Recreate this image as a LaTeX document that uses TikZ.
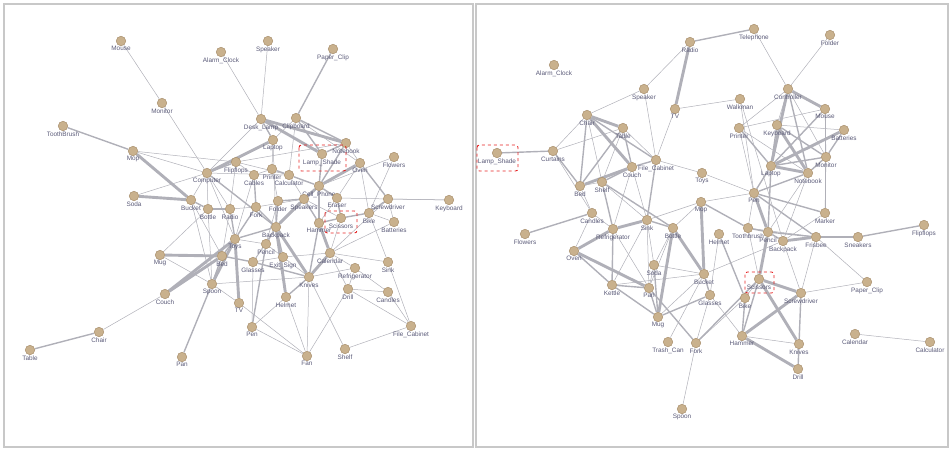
\documentclass[tikz,border=0pt]{standalone}
\usepackage{fontspec}
\setmainfont{Liberation Sans}
\usetikzlibrary{backgrounds}
\definecolor{edgec}{HTML}{B0B0B8}
\definecolor{nodef}{HTML}{C9B18D}
\definecolor{noded}{HTML}{A88F6C}
\definecolor{lblc}{HTML}{5A5A78}
\definecolor{framec}{HTML}{C8C8C8}
\definecolor{redbox}{HTML}{E52222}
\newcommand{\V}[4]{\node[vtx,label={[lbl]below:{#4}}] (#1) at (#2,#3) {};}
\begin{document}
\begin{tikzpicture}[x=1pt,y=-1pt,
 vtx/.style={circle,fill=nodef,draw=noded,line width=0.5pt,minimum size=9.5pt,inner sep=0pt,label distance=0.5pt},
 lbl/.style={font=\fontsize{6.4}{7}\selectfont,text=lblc,inner sep=0.3pt},
 et/.style={draw=edgec,line width=0.5pt},
 em/.style={draw=edgec,line width=1.4pt},
 eT/.style={draw=edgec,line width=2.9pt},
 frm/.style={draw=framec,line width=1.5pt},
 hl/.style={draw=redbox,dashed,line width=0.9pt,rounded corners=2.5pt}]
\useasboundingbox (0,0) rectangle (952,450);
% ---------- left panel nodes
\V{LMouse}{121}{41}{Mouse}
\V{LAlarm}{221}{52}{Alarm\_Clock}
\V{LSpeaker}{268}{41}{Speaker}
\V{LPaperClip}{333}{49}{Paper\_Clip}
\V{LMonitor}{162}{103}{Monitor}
\V{LToothBrush}{63}{126}{ToothBrush}
\V{LMop}{133}{151}{Mop}
\V{LDeskLamp}{261}{119}{Desk\_Lamp}
\V{LClipboard}{296}{118}{Clipboard}
\V{LLaptop}{273}{140}{Laptop}
\V{LNotebook}{346}{143}{Notebook}
\V{LLampShade}{322}{154}{Lamp\_Shade}
\V{LFlowers}{394}{157}{Flowers}
\V{LComputer}{207}{173}{Computer}
\V{LFlipflops}{236}{162}{Flipflops}
\V{LCables}{254}{175}{Cables}
\V{LPrinter}{272}{169}{Printer}
\V{LCalculator}{289}{175}{Calculator}
\V{LCellPhone}{319}{186}{Cell\_Phone}
\V{LOven}{360}{163}{Oven}
\V{LSoda}{134}{196}{Soda}
\V{LBucket}{191}{200}{Bucket}
\V{LBottle}{208}{209}{Bottle}
\V{LRadio}{230}{209}{Radio}
\V{LFork}{256}{207}{Fork}
\V{LFolder}{278}{201}{Folder}
\V{LSpeakers}{304}{199}{Speakers}
\V{LEraser}{337}{198}{Eraser}
\V{LScrewdriver}{388}{199}{Screwdriver}
\V{LKeyboard}{449}{200}{Keyboard}
\V{LHammer}{319}{223}{Hammer}
\V{LScissors}{341}{218}{Scissors}
\V{LBike}{369}{213}{Bike}
\V{LBatteries}{394}{222}{Batteries}
\V{LBackpack}{276}{227}{Backpack}
\V{LToys}{235}{239}{Toys}
\V{LPencil}{266}{244}{Pencil}
\V{LMug}{160}{255}{Mug}
\V{LBed}{222}{256}{Bed}
\V{LGlasses}{253}{262}{Glasses}
\V{LExitSign}{283}{257}{Exit\_Sign}
\V{LCalendar}{330}{253}{Calendar}
\V{LSink}{388}{262}{Sink}
\V{LRefrigerator}{355}{268}{Refrigerator}
\V{LKnives}{309}{277}{Knives}
\V{LSpoon}{212}{284}{Spoon}
\V{LCouch}{165}{294}{Couch}
\V{LDrill}{348}{289}{Drill}
\V{LCandles}{388}{292}{Candles}
\V{LHelmet}{286}{297}{Helmet}
\V{LTV}{239}{303}{TV}
\V{LPen}{252}{327}{Pen}
\V{LFan}{307}{356}{Fan}
\V{LShelf}{345}{349}{Shelf}
\V{LFileCabinet}{411}{326}{File\_Cabinet}
\V{LChair}{99}{332}{Chair}
\V{LTable}{30}{350}{Table}
\V{LPan}{182}{357}{Pan}
% ---------- right panel nodes
\V{RRadio}{690}{42}{Radio}
\V{RTelephone}{754}{29}{Telephone}
\V{RFolder}{830}{35}{Folder}
\V{RAlarm}{554}{65}{Alarm\_Clock}
\V{RSpeaker}{644}{89}{Speaker}
\V{RTV}{675}{109}{TV}
\V{RController}{788}{89}{Controller}
\V{RWalkman}{740}{99}{Walkman}
\V{RMouse}{825}{109}{Mouse}
\V{RPrinter}{739}{128}{Printer}
\V{RKeyboard}{777}{125}{Keyboard}
\V{RBatteries}{844}{130}{Batteries}
\V{RMonitor}{826}{157}{Monitor}
\V{RChair}{587}{115}{Chair}
\V{RTable}{623}{128}{Table}
\V{RLampShade}{497}{153}{Lamp\_Shade}
\V{RCurtains}{553}{151}{Curtains}
\V{RFileCabinet}{656}{160}{File\_Cabinet}
\V{RCouch}{632}{167}{Couch}
\V{RBed}{580}{186}{Bed}
\V{RShelf}{602}{182}{Shelf}
\V{RToys}{702}{173}{Toys}
\V{RLaptop}{771}{166}{Laptop}
\V{RNotebook}{808}{173}{Notebook}
\V{RPen}{754}{193}{Pen}
\V{RMop}{701}{202}{Mop}
\V{RCandles}{592}{213}{Candles}
\V{RMarker}{825}{213}{Marker}
\V{RFlowers}{525}{234}{Flowers}
\V{RRefrigerator}{613}{229}{Refrigerator}
\V{RSink}{647}{220}{Sink}
\V{RBottle}{673}{228}{Bottle}
\V{RHelmet}{719}{234}{Helmet}
\V{RToothbrush}{748}{228}{Toothbrush}
\V{RPencil}{768}{232}{Pencil}
\V{RBackpack}{783}{241}{Backpack}
\V{RFrisbee}{816}{237}{Frisbee}
\V{RSneakers}{858}{237}{Sneakers}
\V{RFlipflops}{924}{225}{Flipflops}
\V{ROven}{574}{251}{Oven}
\V{RSoda}{654}{265}{Soda}
\V{RKettle}{612}{285}{Kettle}
\V{RPan}{649}{288}{Pan}
\V{RBucket}{704}{274}{Bucket}
\V{RGlasses}{710}{295}{Glasses}
\V{RScissors}{759}{279}{Scissors}
\V{RScrewdriver}{801}{293}{Screwdriver}
\V{RBike}{745}{298}{Bike}
\V{RPaperClip}{867}{282}{Paper\_Clip}
\V{RMug}{658}{317}{Mug}
\V{RTrashCan}{668}{342}{Trash\_Can}
\V{RFork}{696}{343}{Fork}
\V{RSpoon}{682}{409}{Spoon}
\V{RHammer}{742}{336}{Hammer}
\V{RKnives}{799}{344}{Knives}
\V{RDrill}{798}{369}{Drill}
\V{RCalendar}{855}{334}{Calendar}
\V{RCalculator}{930}{342}{Calculator}
% ---------- highlight boxes
\draw[hl] (299,145) rectangle (346,171);
\draw[hl] (325,211) rectangle (357,233);
\draw[hl] (477,145) rectangle (518,171);
\draw[hl] (745,272) rectangle (774,293);
\begin{pgfonlayer}{background}
\draw[frm] (4,4) rectangle (473,447);
\draw[frm] (476,4) rectangle (948,447);
% left thin
\foreach \a/\b in {LMouse/LMonitor,LMonitor/LComputer,LAlarm/LDeskLamp,LSpeaker/LDeskLamp,LMop/LComputer,LMop/LFlipflops,LSoda/LComputer,LDeskLamp/LComputer,LClipboard/LLaptop,LClipboard/LOven,LClipboard/LCalculator,LLaptop/LPrinter,LLaptop/LBackpack,LNotebook/LOven,LNotebook/LFlipflops,LFlowers/LCellPhone,LFlowers/LBike,LComputer/LBucket,LComputer/LBottle,LComputer/LRadio,LComputer/LCalculator,LComputer/LToys,LFlipflops/LCables,LFlipflops/LRadio,LFlipflops/LCalculator,LCables/LPrinter,LCables/LToys,LPrinter/LFolder,LCalculator/LSpeakers,LOven/LEraser,LOven/LBike,LEraser/LKeyboard,LEraser/LHammer,LScrewdriver/LKeyboard,LScrewdriver/LCalendar,LScrewdriver/LBatteries,LBike/LBatteries,LBike/LSink,LScissors/LCalendar,LScissors/LSpeakers,LSpeakers/LFork,LFolder/LPencil,LFork/LRadio,LRadio/LBed,LBottle/LSpoon,LBottle/LMug,LBucket/LBed,LBucket/LSpoon,LBackpack/LGlasses,LToys/LPencil,LPencil/LGlasses,LPencil/LExitSign,LMug/LSpoon,LCouch/LChair,LSpoon/LKnives,LGlasses/LExitSign,LExitSign/LKnives,LExitSign/LCalendar,LCalendar/LRefrigerator,LCalendar/LSink,LCalendar/LBatteries,LCalendar/LDrill,LKnives/LRefrigerator,LKnives/LFan,LKnives/LShelf,LRefrigerator/LCandles,LRefrigerator/LDrill,LDrill/LCandles,LDrill/LFileCabinet,LDrill/LFan,LCandles/LFileCabinet,LSink/LFileCabinet,LShelf/LFileCabinet,LHelmet/LPen,LHelmet/LFan,LPen/LFan,LTV/LFan,LTV/LSpoon,LPen/LGlasses}
  \draw[et] (\a) -- (\b);
% left medium
\foreach \a/\b in {LPaperClip/LClipboard,LToothBrush/LMop,LDeskLamp/LLaptop,LClipboard/LNotebook,LClipboard/LLampShade,LNotebook/LLampShade,LNotebook/LCellPhone,LLampShade/LCellPhone,LComputer/LFlipflops,LComputer/LBackpack,LCables/LFork,LPrinter/LCalculator,LCalculator/LCellPhone,LCellPhone/LEraser,LCellPhone/LHammer,LCellPhone/LBackpack,LOven/LScrewdriver,LEraser/LScissors,LScrewdriver/LBike,LBike/LScissors,LScissors/LHammer,LHammer/LSpeakers,LHammer/LKnives,LSpeakers/LFolder,LFolder/LBackpack,LFork/LBackpack,LFork/LToys,LRadio/LBottle,LRadio/LToys,LBottle/LBucket,LBackpack/LPencil,LBackpack/LToys,LBackpack/LExitSign,LToys/LBed,LPencil/LPen,LBed/LSpoon,LBed/LGlasses,LChair/LTable,LSpoon/LPan,LGlasses/LKnives,LKnives/LHelmet}
  \draw[em] (\a) -- (\b);
% left thick
\foreach \a/\b in {LDeskLamp/LNotebook,LDeskLamp/LLampShade,LLaptop/LComputer,LMop/LBucket,LSoda/LBucket,LCellPhone/LSpeakers,LCellPhone/LOven,LHammer/LCalendar,LSpeakers/LBackpack,LBackpack/LHelmet,LBackpack/LKnives,LToys/LSpoon,LToys/LTV,LMug/LBed,LBed/LCouch,LCouch/LToys,LCalendar/LKnives}
  \draw[eT] (\a) -- (\b);
% right thin
\foreach \a/\b in {RRadio/RSpeaker,RTV/RWalkman,RTV/RFileCabinet,RTelephone/RController,RFolder/RController,RSpeaker/RChair,RSpeaker/RFileCabinet,RChair/RCurtains,RChair/RShelf,RTable/RShelf,RTable/RFileCabinet,RCurtains/RTable,RCurtains/RCandles,RCouch/RRefrigerator,RCouch/RSink,RFileCabinet/RToys,RBed/RShelf,RBed/RCandles,RShelf/RSink,RCandles/RRefrigerator,RCandles/ROven,RRefrigerator/RPan,RSink/RKettle,RSink/RSoda,RSink/RMop,RSink/RPan,RKettle/RBucket,RSoda/RPan,RSoda/RBucket,RBottle/RSoda,RBottle/RPan,RMug/RBucket,RTrashCan/RBucket,RFork/RSpoon,RFork/RGlasses,RBucket/RBackpack,RToys/RPen,RMop/RPen,RMop/RBottle,RPen/RToothbrush,RPen/RWalkman,RPen/RPrinter,RPrinter/RController,RPrinter/RMouse,RPrinter/RNotebook,RWalkman/RBackpack,RController/RKeyboard,RController/RMonitor,RKeyboard/RBatteries,RMouse/RMonitor,RMouse/RMarker,RNotebook/RBackpack,RNotebook/RPencil,RMarker/RMonitor,RMarker/RBackpack,RToothbrush/RScissors,RToothbrush/RFrisbee,RBackpack/RScrewdriver,RFrisbee/RScrewdriver,RFrisbee/RPaperClip,RScissors/RBike,RScrewdriver/RPaperClip,RHammer/RKnives,RHammer/RGlasses,RCalendar/RCalculator,RHelmet/RGlasses,RFork/RBike}
  \draw[et] (\a) -- (\b);
% right medium
\foreach \a/\b in {RRadio/RTelephone,RChair/RBed,RChair/RFileCabinet,RTable/RCouch,RTable/RBed,RLampShade/RCurtains,RCurtains/RBed,RCouch/RShelf,RCouch/RFileCabinet,RFileCabinet/RSink,RShelf/RRefrigerator,RShelf/RBottle,RFlowers/RCandles,RRefrigerator/RKettle,RSink/RBottle,ROven/RKettle,RKettle/RPan,RKettle/RMug,RSoda/RMug,RMug/RGlasses,RMug/RPan,RFork/RPan,RFork/RScissors,RGlasses/RBucket,RHelmet/RBike,RMop/RToothbrush,RPen/RLaptop,RPen/RNotebook,RPen/RMarker,RPen/RFrisbee,RPrinter/RLaptop,RController/RNotebook,RKeyboard/RLaptop,RKeyboard/RMonitor,RMouse/RLaptop,RBatteries/RMonitor,RMonitor/RLaptop,RMonitor/RNotebook,RToothbrush/RPencil,RPencil/RBackpack,RPencil/RFrisbee,RPencil/RLaptop,RFrisbee/RSneakers,RSneakers/RFlipflops,RScissors/RHammer,RScrewdriver/RKnives,RHammer/RBike,RKnives/RDrill}
  \draw[em] (\a) -- (\b);
% right thick
\foreach \a/\b in {RRadio/RTV,RChair/RTable,RChair/RCouch,RCouch/RBed,RRefrigerator/ROven,RRefrigerator/RSink,ROven/RPan,RBottle/RMug,RBottle/RBucket,RMop/RBucket,RPen/RPencil,RController/RMouse,RController/RLaptop,RKeyboard/RNotebook,RBatteries/RLaptop,RLaptop/RNotebook,RPencil/RScissors,RBackpack/RFrisbee,RScissors/RScrewdriver,RScissors/RKnives,RScrewdriver/RHammer,RHammer/RDrill}
  \draw[eT] (\a) -- (\b);
\end{pgfonlayer}
\end{tikzpicture}
\end{document}
